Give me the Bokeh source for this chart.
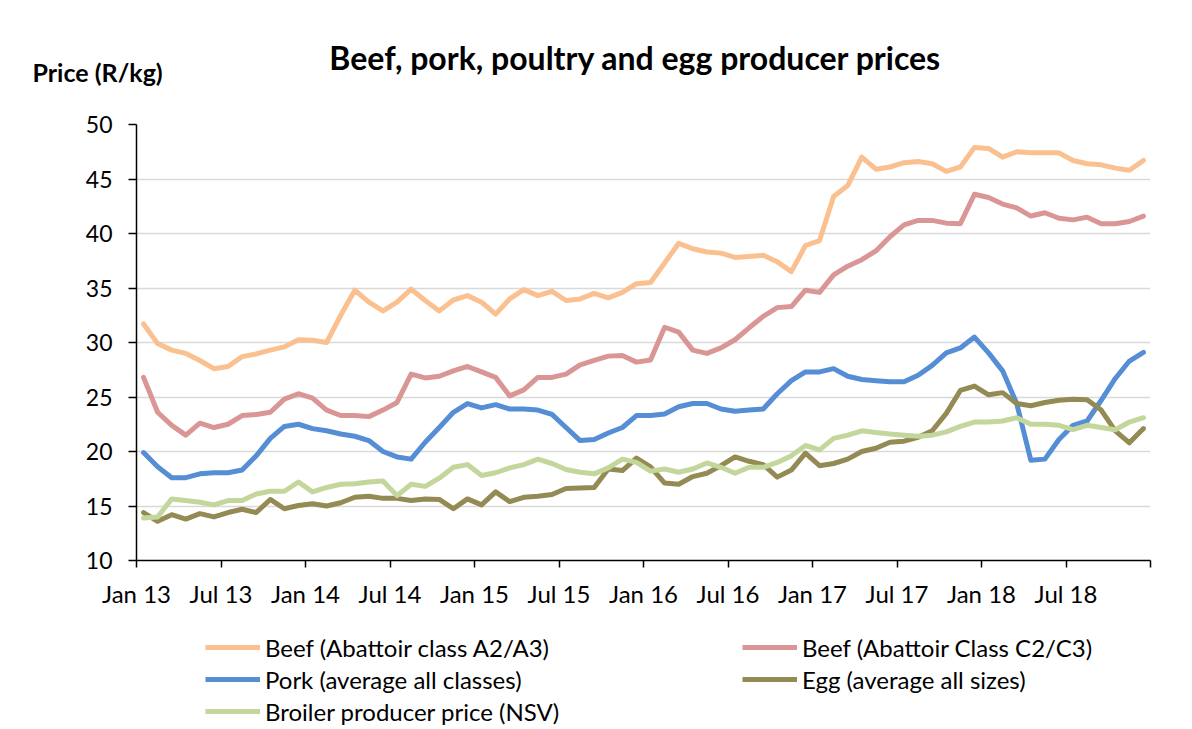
from bokeh.plotting import figure
from bokeh.layouts import column
from bokeh.models import Range1d, FixedTicker, Legend, LegendItem, Label
from bokeh.embed import file_html
from bokeh.resources import INLINE

# ---- data (monthly, Jan 2013 - Dec 2018), R/kg ----
beef_a2a3 = [31.7, 29.9, 29.3, 29.0, 28.35, 27.6, 27.8, 28.7, 28.95, 29.3, 29.6, 30.25,
             30.2, 30.0, 32.5, 34.8, 33.7, 32.9, 33.7, 34.9, 33.85, 32.9, 33.9, 34.3,
             33.7, 32.6, 34.0, 34.85, 34.3, 34.7, 33.85, 34.0, 34.5, 34.1, 34.6, 35.4,
             35.5, 37.3, 39.1, 38.6, 38.3, 38.2, 37.8, 37.9, 38.0, 37.4, 36.5, 38.9,
             39.35, 43.4, 44.4, 47.0, 45.9, 46.1, 46.5, 46.6, 46.4, 45.7, 46.1, 47.9,
             47.8, 47.0, 47.5, 47.4, 47.4, 47.4, 46.7, 46.4, 46.3, 46.0, 45.8, 46.7]
beef_c2c3 = [26.8, 23.6, 22.4, 21.5, 22.6, 22.2, 22.5, 23.3, 23.4, 23.6, 24.8, 25.3,
             24.9, 23.8, 23.3, 23.3, 23.2, 23.8, 24.5, 27.1, 26.75, 26.9, 27.4, 27.8,
             27.3, 26.8, 25.1, 25.65, 26.8, 26.8, 27.1, 27.95, 28.35, 28.75, 28.8, 28.2,
             28.4, 31.4, 30.95, 29.3, 29.0, 29.5, 30.25, 31.35, 32.4, 33.2, 33.3, 34.8,
             34.6, 36.2, 37.0, 37.6, 38.4, 39.7, 40.8, 41.2, 41.2, 40.95, 40.9, 43.6,
             43.3, 42.7, 42.35, 41.6, 41.9, 41.4, 41.25, 41.5, 40.9, 40.9, 41.1, 41.6]
pork = [19.9, 18.6, 17.6, 17.6, 17.95, 18.05, 18.05, 18.3, 19.6, 21.2, 22.3, 22.5,
        22.1, 21.9, 21.6, 21.4, 21.0, 20.0, 19.5, 19.3, 20.85, 22.2, 23.6, 24.4,
        24.0, 24.3, 23.9, 23.9, 23.8, 23.4, 22.2, 21.0, 21.1, 21.7, 22.2, 23.3,
        23.3, 23.45, 24.1, 24.4, 24.4, 23.9, 23.7, 23.8, 23.9, 25.3, 26.5, 27.3,
        27.3, 27.6, 26.9, 26.6, 26.5, 26.4, 26.4, 27.0, 27.9, 29.05, 29.5, 30.5,
        29.05, 27.4, 24.4, 19.2, 19.3, 21.1, 22.4, 22.8, 24.7, 26.7, 28.3, 29.1]
egg = [14.4, 13.6, 14.2, 13.8, 14.3, 14.0, 14.4, 14.7, 14.4, 15.6, 14.75, 15.05,
       15.2, 15.0, 15.3, 15.8, 15.9, 15.7, 15.7, 15.5, 15.65, 15.6, 14.75, 15.65,
       15.1, 16.3, 15.4, 15.8, 15.9, 16.05, 16.6, 16.65, 16.7, 18.4, 18.25, 19.4,
       18.6, 17.1, 17.0, 17.7, 18.0, 18.7, 19.5, 19.1, 18.8, 17.65, 18.3, 19.85,
       18.7, 18.9, 19.3, 20.0, 20.3, 20.85, 20.95, 21.3, 21.9, 23.5, 25.6, 26.0,
       25.2, 25.4, 24.4, 24.2, 24.5, 24.7, 24.8, 24.75, 23.8, 21.9, 20.8, 22.1]
broiler = [13.9, 14.0, 15.65, 15.5, 15.35, 15.1, 15.5, 15.5, 16.1, 16.35, 16.35, 17.2,
           16.3, 16.7, 17.0, 17.05, 17.2, 17.3, 15.95, 17.0, 16.8, 17.55, 18.55, 18.8,
           17.8, 18.05, 18.5, 18.8, 19.3, 18.9, 18.35, 18.1, 17.95, 18.5, 19.3, 19.0,
           18.2, 18.4, 18.1, 18.4, 18.95, 18.55, 18.0, 18.55, 18.55, 19.0, 19.6, 20.55,
           20.15, 21.2, 21.5, 21.9, 21.75, 21.6, 21.5, 21.4, 21.5, 21.8, 22.3, 22.7,
           22.7, 22.8, 23.1, 22.5, 22.5, 22.4, 22.0, 22.4, 22.2, 22.0, 22.7, 23.1]

tick_labels = ["Jan 13", "Jul 13", "Jan 14", "Jul 14", "Jan 15", "Jul 15",
               "Jan 16", "Jul 16", "Jan 17", "Jul 17", "Jan 18", "Jul 18"]
series_names = ["Beef (Abattoir class A2/A3)", "Beef (Abattoir Class C2/C3)",
                "Pork (average all classes)", "Egg (average all sizes)",
                "Broiler producer price (NSV)"]
colors = ["#FAC08F", "#D99694", "#558ED5", "#948A54", "#C3D69B"]
y_ticks = [10, 15, 20, 25, 30, 35, 40, 45, 50]
chart_title = "Beef, pork, poultry and egg producer prices"
y_title = "Price (R/kg)"

n = len(beef_a2a3)
# each month is a category slot; the point sits in the middle of its slot
x = [i + 0.5 for i in range(n)]
series = [beef_a2a3, beef_c2c3, pork, egg, broiler]

FONT = "Lato"
W = 1192
HEAD_H, MAIN_H, FOOT_H = 110, 510, 109


def bare(h):
    f = figure(width=W, height=h, x_range=Range1d(0, W), y_range=Range1d(h, 0),
               x_axis_type=None, y_axis_type=None, toolbar_location=None,
               output_backend="svg", min_border=0, frame_align=False)
    f.grid.visible = False
    f.outline_line_color = None
    return f


# ---- header: title and unit label ----
head = bare(HEAD_H)
head.add_layout(Label(x=635, y=57, text=chart_title, text_align="center",
                      text_baseline="middle", text_font=FONT, text_font_style="bold",
                      text_font_size="32px", text_color="black"))
head.add_layout(Label(x=32, y=71, text=y_title, text_align="left",
                      text_baseline="middle", text_font=FONT, text_font_style="bold",
                      text_font_size="25px", text_color="black"))

# ---- main chart ----
p = figure(width=W, height=MAIN_H, frame_width=1014, frame_height=436,
           min_border_left=136, min_border_right=42,
           min_border_top=14, min_border_bottom=60,
           x_range=Range1d(0, n), y_range=Range1d(10, 50),
           toolbar_location=None, output_backend="svg", frame_align=False)
p.outline_line_color = None

p.xgrid.visible = False
p.ygrid.grid_line_color = "#d9d9d9"
p.ygrid.grid_line_width = 1.5

p.yaxis.ticker = FixedTicker(ticks=y_ticks)
step = 6
p.xaxis.ticker = FixedTicker(ticks=list(range(0, n + 1, step)))
overrides = {i * step: lab for i, lab in enumerate(tick_labels)}
overrides[n] = ""
p.xaxis.major_label_overrides = overrides

for ax in (p.xaxis[0], p.yaxis[0]):
    ax.axis_line_color = "black"
    ax.axis_line_width = 1.5
    ax.major_tick_line_color = "black"
    ax.major_tick_line_width = 1.5
    ax.major_tick_in = 0
    ax.minor_tick_line_color = None
    ax.major_label_text_font = FONT
    ax.major_label_text_color = "black"
p.yaxis.major_label_text_font_size = "23px"
p.xaxis.major_label_text_font_size = "24px"
p.yaxis.major_tick_out = 8
p.yaxis.major_label_standoff = 16
p.xaxis.major_tick_out = 7
p.xaxis.major_label_standoff = 11

for vals, col in zip(series, colors):
    p.line(x, vals, line_color=col, line_width=5, line_join="round", line_cap="round")

# ---- footer: legend in two columns ----
foot = bare(FOOT_H)
# legend keys: one-point lines (nothing is drawn in the footer, only the keys)
keys = [foot.line(x[:1], vals[:1], line_color=col, line_width=5)
        for vals, col in zip(series, colors)]
common = dict(border_line_color=None, background_fill_alpha=0, padding=0, margin=0,
              spacing=2, glyph_width=55, glyph_height=30, label_height=30,
              label_standoff=5, label_text_font=FONT, label_text_font_size="24px",
              label_text_color="black", orientation="vertical")
leg1 = Legend(items=[LegendItem(label=series_names[i], renderers=[keys[i]]) for i in (0, 2, 4)],
              location=(205, 3), **common)
leg2 = Legend(items=[LegendItem(label=series_names[i], renderers=[keys[i]]) for i in (1, 3)],
              location=(742, 35), **common)
foot.add_layout(leg1)
foot.add_layout(leg2)

layout = column(head, p, foot, spacing=0)
open("out.html", "w").write(file_html(layout, INLINE))
